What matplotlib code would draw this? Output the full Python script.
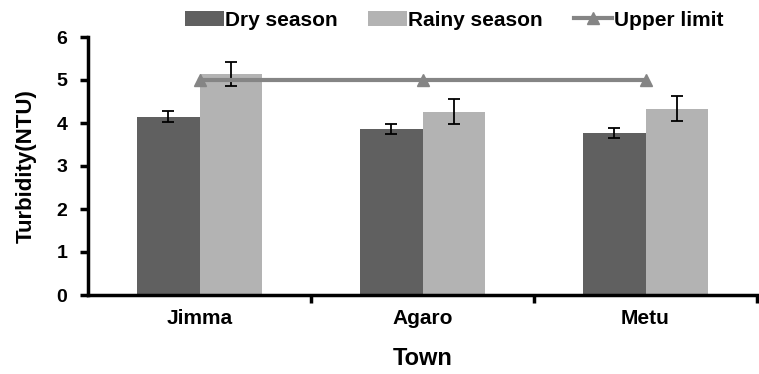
import matplotlib.pyplot as plt
import numpy as np

plt.rcParams['font.family'] = ['Liberation Sans', 'DejaVu Sans']
plt.rcParams['font.weight'] = 'bold'

# Turbidity by town and season
towns = ["Jimma", "Agaro", "Metu"]
dry = [4.15, 3.86, 3.77]
dry_err = [0.13, 0.12, 0.12]
rainy = [5.14, 4.26, 4.33]
rainy_err = [0.29, 0.29, 0.29]
upper_limit = [5, 5, 5]

dark = '#606060'
light = '#b3b3b3'
line_col = '#858585'

fig = plt.figure(figsize=(7.59, 3.74), dpi=100)
ax = fig.add_axes([88 / 759, 1 - 295 / 374, (757 - 88) / 759, (295 - 37) / 374])

x = np.arange(len(towns))
w = 0.28
err_kw = dict(ecolor='black', elinewidth=1.3, capsize=4, capthick=1.3)
ax.bar(x - w / 2, dry, w, yerr=dry_err, color=dark, label='Dry season',
       error_kw=err_kw, zorder=2)
ax.bar(x + w / 2, rainy, w, yerr=rainy_err, color=light, label='Rainy season',
       error_kw=err_kw, zorder=2)
ax.plot(x, upper_limit, color=line_col, lw=3, marker='^', markersize=9,
        label='Upper limit', zorder=3)

ax.set_xlim(-0.5, 2.5)
ax.set_ylim(0, 6)
ax.set_yticks(range(7))
ax.set_xticks(x)
ax.set_xticklabels(towns, fontsize=15, fontweight='bold')
ax.set_xticks([0.5, 1.5, 2.5], minor=True)
ax.tick_params(axis='x', which='major', length=0, pad=10)
ax.tick_params(axis='x', which='minor', length=6, width=2.5, direction='out')
ax.tick_params(axis='y', length=6, width=2.5, labelsize=14, pad=9)
for lab in ax.get_yticklabels():
    lab.set_fontweight('bold')

for side in ['top', 'right']:
    ax.spines[side].set_visible(False)
for side in ['left', 'bottom']:
    ax.spines[side].set_linewidth(2.5)

ax.set_xlabel('Town', fontsize=17, fontweight='bold', labelpad=14)
ax.set_ylabel('Turbidity(NTU)', fontsize=16, fontweight='bold', labelpad=14)

handles, labels = ax.get_legend_handles_labels()
order = [1, 2, 0]
fig.legend([handles[i] for i in order], [labels[i] for i in order],
           loc='center', bbox_to_anchor=(454 / 759, 1 - 20 / 374), ncol=3,
           frameon=False, fontsize=15, handlelength=1.85, handletextpad=0.05,
           columnspacing=1.5, borderpad=0, borderaxespad=0)

fig.savefig('out.png', dpi=100)
